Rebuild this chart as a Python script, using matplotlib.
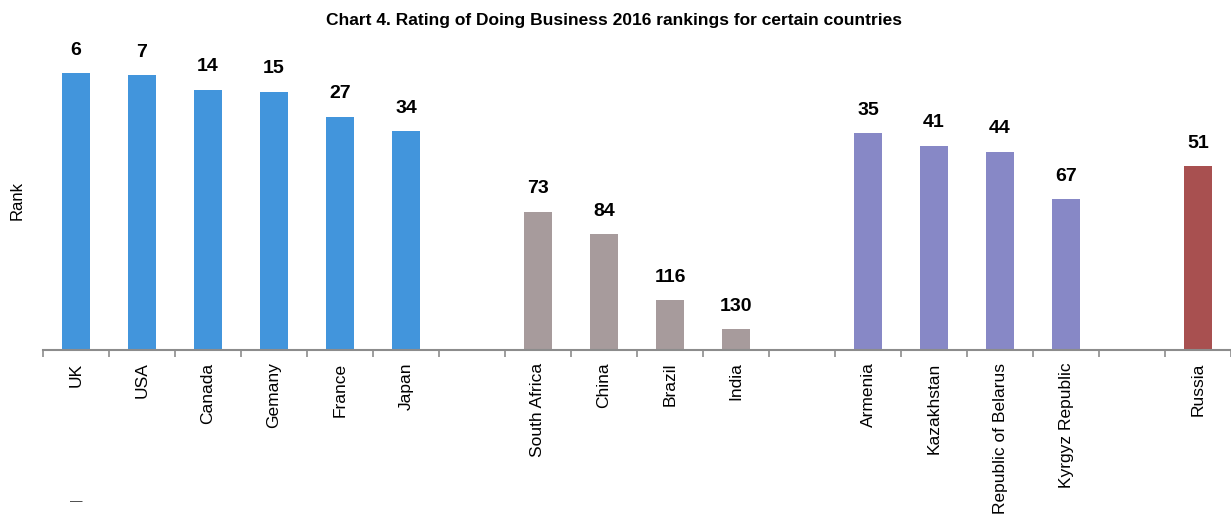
import matplotlib.pyplot as plt
import numpy as np

plt.rcParams['font.family'] = ['Liberation Sans', 'DejaVu Sans']

developed = ['UK', 'USA', 'Canada', 'Gemany', 'France', 'Japan']
developed_rank = [6, 7, 14, 15, 27, 34]
brics = ['South Africa', 'China', 'Brazil', 'India']
brics_rank = [73, 84, 116, 130]
eaeu = ['Armenia', 'Kazakhstan', 'Republic of Belarus', 'Kyrgyz Republic']
eaeu_rank = [35, 41, 44, 67]
russia = ['Russia']
russia_rank = [51]

groups = [
    (developed, developed_rank, '#4295dc'),
    (brics, brics_rank, '#a79b9c'),
    (eaeu, eaeu_rank, '#8788c6'),
    (russia, russia_rank, '#a85050'),
]

base = 140  # bottom of the inverted rank axis

fig = plt.figure(figsize=(12.31, 5.15), dpi=100)
ax = fig.add_axes([43 / 1231, 1 - 350 / 515, 1 - 43 / 1231, 320 / 515])

labels = []
pos = 0
for names, ranks, color in groups:
    x = np.arange(pos, pos + len(names))
    ax.bar(x, np.array(ranks) - base, bottom=base, width=0.42, color=color)
    for xi, r in zip(x, ranks):
        ax.text(xi, r - 7, str(r), ha='center', va='bottom', fontsize=14,
                fontweight='bold')
    labels += names + ['']
    pos += len(names) + 1

labels = labels[:-1]
n = len(labels)
ax.set_xlim(-0.5, n - 0.5)
ax.set_ylim(base, -15)

ax.set_xticks(np.arange(n))
ax.set_xticklabels(labels, rotation=90, fontsize=12.5)
ax.tick_params(axis='x', which='major', length=0, pad=9)
ax.set_xticks(np.arange(n + 1) - 0.5, minor=True)
ax.tick_params(axis='x', which='minor', length=5, color='#8c8c8c', width=1.2)
ax.set_yticks([])

for s in ['top', 'right', 'left']:
    ax.spines[s].set_visible(False)
ax.spines['bottom'].set_color('#8c8c8c')
ax.spines['bottom'].set_linewidth(1.5)

fig.text(17 / 1231, 1 - 200 / 515, 'Rank', rotation=90, ha='center', va='center', fontsize=12)
fig.suptitle('Chart 4. Rating of Doing Business 2016 rankings for certain countries',
             y=1 - 21 / 515, va='center', x=614 / 1231, fontsize=12.5, fontweight='bold')
fig.text(76 / 1231, 1 - 502 / 515, '—', ha='center', va='center', fontsize=9, color='#333333')

fig.savefig('out.png', dpi=100)
